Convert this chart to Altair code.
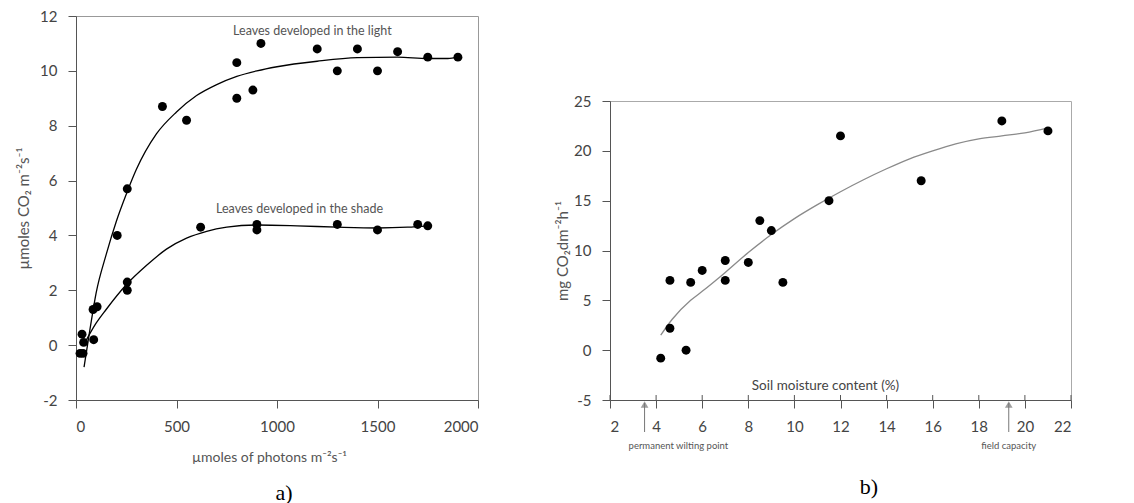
import altair as alt
import pandas as pd

# ---------------- Panel a data ----------------
light_x = [20, 30, 85, 105, 205, 255, 430, 550, 800, 800, 880, 920, 1200, 1300, 1400, 1500, 1600, 1750, 1900]
light_y = [-0.3, 0.4, 1.3, 1.4, 4.0, 5.7, 8.7, 8.2, 10.3, 9.0, 9.3, 11.0, 10.8, 10.0, 10.8, 10.0, 10.7, 10.5, 10.5]
shade_x = [35, 38, 88, 255, 255, 620, 900, 900, 1300, 1500, 1700, 1750]
shade_y = [-0.3, 0.1, 0.2, 2.3, 2.0, 4.3, 4.4, 4.2, 4.4, 4.2, 4.4, 4.35]

# fitted curves
light_curve_x = [40, 70, 100, 150, 200, 250, 300, 400, 500, 600, 700, 800, 900, 1000, 1200, 1400, 1600, 1750, 1850, 1900]
light_curve_y = [-0.8, 0.6, 1.9, 3.3, 4.5, 5.5, 6.4, 7.7, 8.5, 9.1, 9.5, 9.8, 10.0, 10.15, 10.35, 10.48, 10.5, 10.45, 10.45, 10.5]
shade_curve_x = [45, 100, 150, 250, 350, 450, 550, 650, 750, 900, 1100, 1300, 1500, 1650, 1750]
shade_curve_y = [0.1, 0.8, 1.3, 2.2, 2.9, 3.5, 3.9, 4.15, 4.3, 4.38, 4.35, 4.3, 4.27, 4.3, 4.35]

a_xticks = [0, 500, 1000, 1500, 2000]
a_yticks = [-2, 0, 2, 4, 6, 8, 10, 12]
a_labels = ["Leaves developed in the light", "Leaves developed in the shade"]
a_label_x = [1176, 1112]
a_label_y = [11.45, 4.95]

# ---------------- Panel b data ----------------
b_x = [4.2, 4.6, 4.6, 5.3, 5.5, 6.0, 7.0, 7.0, 8.0, 8.5, 9.0, 9.5, 11.5, 12.0, 15.5, 19.0, 21.0]
b_y = [-0.8, 2.2, 7.0, 0.0, 6.8, 8.0, 9.0, 7.0, 8.8, 13.0, 12.0, 6.8, 15.0, 21.5, 17.0, 23.0, 22.0]
b_curve_x = [4.2, 4.7, 5.5, 6.0, 7.0, 8.0, 9.0, 10.0, 11.0, 12.0, 13.0, 14.0, 15.0, 16.0, 17.0, 18.0, 19.0, 20.0, 21.0]
b_curve_y = [1.5, 3.1, 5.0, 5.9, 7.8, 9.8, 11.6, 13.2, 14.6, 15.9, 17.1, 18.2, 19.2, 20.0, 20.7, 21.2, 21.5, 21.8, 22.3]
b_xticks = [2, 4, 6, 8, 10, 12, 14, 16, 18, 20, 22]
b_yticks = [-5, 0, 5, 10, 15, 20, 25]
b_notes = ["permanent wilting point", "field capacity"]
b_note_x = [3.5, 19.3]

W_A, H_A = 402, 384
W_B, H_B = 461, 299

FONT = "Lato"
axis_common = dict(labelFont=FONT, labelFontSize=15, labelColor="#444",
                   titleFont=FONT, titleColor="#555", titleFontWeight="normal",
                   domainColor="#555", tickColor="#555", grid=False, tickSize=8,
                   labelPadding=11, labelExpr="'' + datum.value")

# ---------------- Panel a ----------------
pts_a = pd.DataFrame({"x": light_x + shade_x, "y": light_y + shade_y})
curve_a = pd.DataFrame({
    "x": light_curve_x + shade_curve_x,
    "y": light_curve_y + shade_curve_y,
    "s": ["light"] * len(light_curve_x) + ["shade"] * len(shade_curve_x),
})
lab_a = pd.DataFrame({"x": a_label_x, "y": a_label_y, "t": a_labels})

xa = alt.X("x:Q", scale=alt.Scale(domain=[0, 2000], nice=False),
           axis=alt.Axis(values=a_xticks, title="µmoles of photons m⁻²s⁻¹", titlePadding=16,
                         titleFontSize=14, titleX=193, **axis_common))
ya = alt.Y("y:Q", scale=alt.Scale(domain=[-2, 12], nice=False),
           axis=alt.Axis(values=a_yticks, title="µmoles CO₂ m⁻²s⁻¹", titlePadding=8,
                         titleFontSize=15, **axis_common))

a_pts = alt.Chart(pts_a).mark_circle(size=80, color="black", opacity=1).encode(x=xa, y=ya)
a_line = alt.Chart(curve_a).mark_line(color="black", strokeWidth=1.3, interpolate="monotone").encode(
    x=alt.X("x:Q"), y=alt.Y("y:Q"), detail="s:N")
a_txt = alt.Chart(lab_a).mark_text(font=FONT, fontSize=12.5, color="#555").encode(
    x=alt.X("x:Q"), y=alt.Y("y:Q"), text="t:N")
a_cap = alt.Chart(pd.DataFrame({"t": ["a)"]})).mark_text(
    font="Liberation Serif", fontSize=22, color="black").encode(
    x=alt.value(208), y=alt.value(477), text="t:N")

chart_a = alt.layer(a_line, a_pts, a_txt, a_cap).properties(
    width=W_A, height=H_A, view=alt.ViewBackground(stroke="#999"))

# ---------------- Panel b ----------------
pts_b = pd.DataFrame({"x": b_x, "y": b_y})
curve_b = pd.DataFrame({"x": b_curve_x, "y": b_curve_y})
ticks_b = pd.DataFrame({"x": b_xticks})
notes_b = pd.DataFrame({"x": b_note_x, "t": b_notes})

xb = alt.X("x:Q", scale=alt.Scale(domain=[2, 22], nice=False),
           axis=alt.Axis(values=b_xticks, title=None, **axis_common))
yb = alt.Y("y:Q", scale=alt.Scale(domain=[-5, 25], nice=False),
           axis=alt.Axis(values=b_yticks, title="mg CO₂dm⁻²h⁻¹", titlePadding=3,
                         titleFontSize=15, **axis_common))

b_pts = alt.Chart(pts_b).mark_circle(size=80, color="black", opacity=1).encode(x=xb, y=yb)
b_line = alt.Chart(curve_b).mark_line(color="#8a8a8a", strokeWidth=1.3, interpolate="monotone").encode(
    x=alt.X("x:Q"), y=alt.Y("y:Q"))
b_tk = alt.Chart(ticks_b).mark_rule(color="#555").encode(
    x=alt.X("x:Q"), y=alt.datum(-5), y2=alt.datum(-4.5))
b_title = alt.Chart(pd.DataFrame({"x": [11.35], "y": [-3.6], "t": ["Soil moisture content (%)"]})).mark_text(
    font=FONT, fontSize=13.5, color="#444").encode(x=alt.X("x:Q"), y=alt.Y("y:Q"), text="t:N")
b_arrow = alt.Chart(notes_b).mark_rule(color="#777", strokeWidth=1).encode(
    x=alt.X("x:Q"), y=alt.value(H_B + 32), y2=alt.value(H_B + 3))
b_head = alt.Chart(notes_b).mark_point(shape="triangle-up", filled=False, size=18, color="#777").encode(
    x=alt.X("x:Q"), y=alt.value(H_B + 5))
b_note1 = alt.Chart(notes_b.iloc[[0]]).mark_text(font=FONT, fontSize=9.5, color="#555",
                                                   align="left", dx=-16).encode(
    x=alt.X("x:Q"), y=alt.value(H_B + 46), text="t:N")
b_note2 = alt.Chart(notes_b.iloc[[1]]).mark_text(font=FONT, fontSize=9.5, color="#555").encode(
    x=alt.X("x:Q"), y=alt.value(H_B + 46), text="t:N")
b_cap = alt.Chart(pd.DataFrame({"t": ["b)"]})).mark_text(
    font="Liberation Serif", fontSize=22, color="black").encode(
    x=alt.value(259), y=alt.value(H_B + 87), text="t:N")

chart_b = alt.layer(b_line, b_pts, b_tk, b_title, b_arrow, b_head, b_note1, b_note2, b_cap).properties(
    width=W_B, height=H_B, view=alt.ViewBackground(stroke="#aaa"))

spacer = alt.Chart(pd.DataFrame({"t": [""]})).mark_text().encode(text="t:N").properties(
    width=W_B, height=85, view=alt.ViewBackground(stroke=None))

right = alt.vconcat(spacer, chart_b, spacing=0, bounds="flush")

chart = alt.hconcat(chart_a, right, spacing=132, bounds="flush").properties(
    padding={"left": 8, "top": 0, "right": 0, "bottom": 0},
    background="white")

chart.save("out.html", embed_options={"renderer": "svg", "actions": False})
